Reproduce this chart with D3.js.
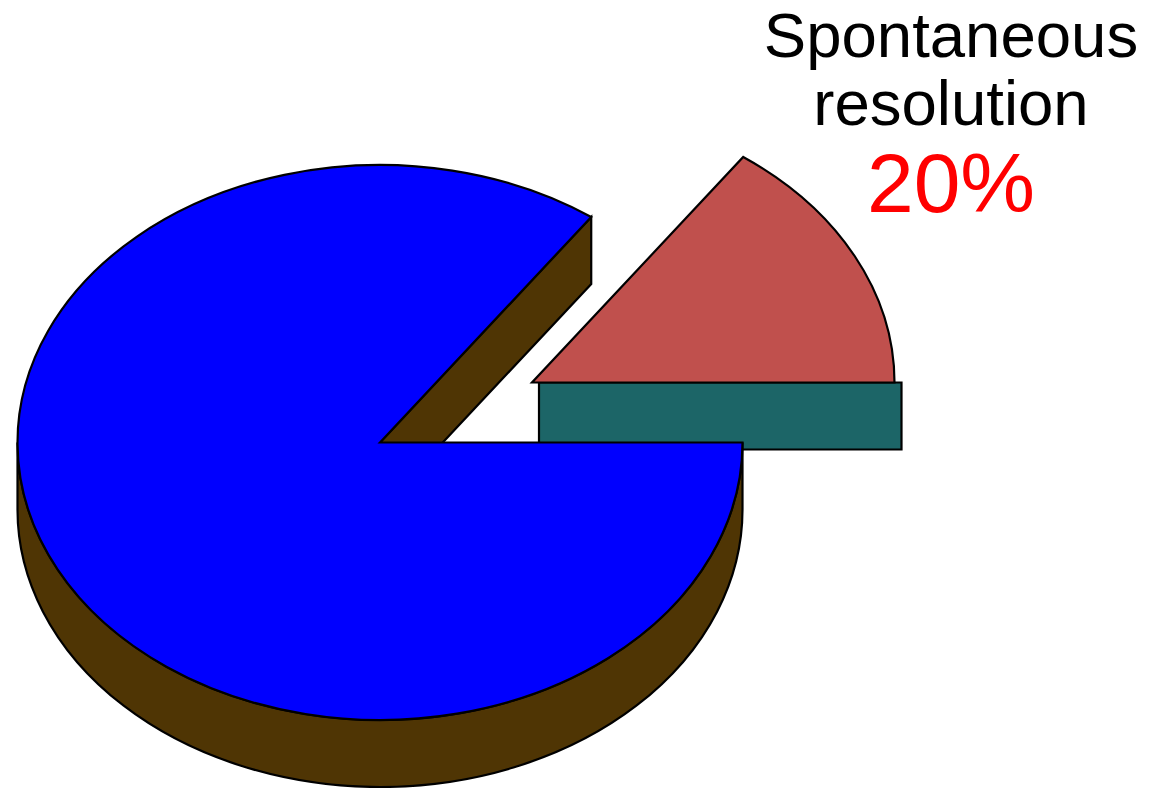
<!DOCTYPE html>
<html>
<head>
<meta charset="utf-8">
<script src="https://cdn.jsdelivr.net/npm/d3@7"></script>
<style>
  html, body { margin: 0; padding: 0; background: #fff; }
  svg { display: block; }
</style>
</head>
<body>
<svg id="chart" width="1149" height="788"></svg>
<script>
// ---- data ----
const categories = ["Spontaneous resolution", "Other"];
const values = [15.1, 84.9];            // slice shares as drawn
const labelLines = ["Spontaneous", "resolution"];
const percentLabels = ["20%"];
const topColors = ["#C0504D", "#0000FF"];
const sideColors = ["#1C6567", "#4F3504"];

// ---- layout ----
const W = 1149, H = 788;
const cx = 380, cy = 442.5, rx = 362.5, ry = 277.5, depth = 67;
const explode = [152, -60];
const svg = d3.select("#chart");

const xs = d3.scaleLinear().domain([-1, 1]).range([cx - rx, cx + rx]);
const ys = d3.scaleLinear().domain([-1, 1]).range([cy + ry, cy - ry]);

const pie = d3.pie().sort(null).startAngle(0).endAngle(2 * Math.PI);
const arcs = pie(values);   // angles used as math angles (ccw from +x)

const pt = (a, dx = 0, dy = 0) => [xs(Math.cos(a)) + dx, ys(Math.sin(a)) + dy];
const fmt = p => p[0].toFixed(2) + "," + p[1].toFixed(2);

// ---- exploded slice (red) ----
{
  const a = arcs[0];
  const [ox, oy] = explode;
  const c = [cx + ox, cy + oy];
  const p0 = pt(a.startAngle, ox, oy);
  const p1 = pt(a.endAngle, ox, oy);
  const g = svg.append("g");
  g.append("path")
    .attr("d", `M${fmt([c[0] + 7, c[1]])}L${fmt([p0[0] + 7, p0[1]])}L${fmt([p0[0] + 7, p0[1] + depth])}L${fmt([c[0] + 7, c[1] + depth])}Z`)
    .attr("fill", sideColors[0]).attr("stroke", "#000").attr("stroke-width", 2.2)
    .attr("stroke-linejoin", "miter");
  const large = (a.endAngle - a.startAngle) > Math.PI ? 1 : 0;
  g.append("path")
    .attr("d", `M${fmt(c)}L${fmt(p0)}A${rx},${ry} 0 ${large} 0 ${fmt(p1)}Z`)
    .attr("fill", topColors[0]).attr("stroke", "#000").attr("stroke-width", 2.2)
    .attr("stroke-linejoin", "miter");
}

// ---- main slice (blue) ----
{
  const a = arcs[1];
  const g = svg.append("g");
  const pL = pt(Math.PI), pR = pt(2 * Math.PI);
  g.append("path")
    .attr("d", `M${fmt(pL)}A${rx},${ry} 0 0 0 ${fmt(pR)}L${fmt([pR[0], pR[1] + depth])}A${rx},${ry} 0 0 1 ${fmt([pL[0], pL[1] + depth])}Z`)
    .attr("fill", sideColors[1]).attr("stroke", "#000").attr("stroke-width", 2.2);
  const ps = pt(a.startAngle);
  g.append("path")
    .attr("d", `M${fmt([cx, cy])}L${fmt(ps)}L${fmt([ps[0], ps[1] + depth])}L${fmt([cx, cy + depth])}Z`)
    .attr("fill", sideColors[1]).attr("stroke", "#000").attr("stroke-width", 2.2);
  const pe = pt(a.endAngle);
  const large = (a.endAngle - a.startAngle) > Math.PI ? 1 : 0;
  g.append("path")
    .attr("d", `M${fmt([cx, cy])}L${fmt(ps)}A${rx},${ry} 0 ${large} 0 ${fmt(pe)}Z`)
    .attr("fill", topColors[1]).attr("stroke", "#000").attr("stroke-width", 2.2)
    .attr("stroke-linejoin", "miter");
}

// ---- label ----
const lx = 951;
const lab = svg.append("g").attr("font-family", "'Liberation Sans', Arial, sans-serif")
  .attr("text-anchor", "middle");
lab.selectAll("text.name").data(labelLines).join("text")
  .attr("class", "name")
  .attr("x", lx).attr("y", (d, i) => 57 + i * 68)
  .attr("font-size", 63.5).attr("fill", "#000")
  .text(d => d);
lab.selectAll("text.pct").data(percentLabels).join("text")
  .attr("class", "pct")
  .attr("x", lx).attr("y", 212)
  .attr("font-size", 84).attr("fill", "#FF0000")
  .text(d => d);
</script>
</body>
</html>
